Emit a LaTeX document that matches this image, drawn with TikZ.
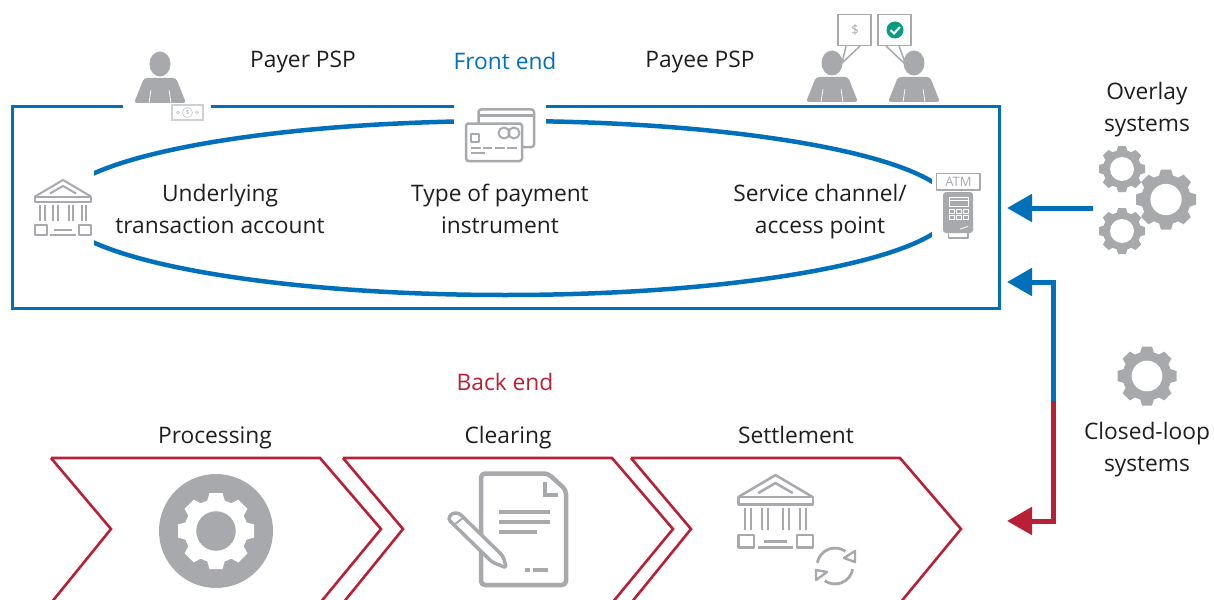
\documentclass[tikz,border=0pt]{standalone}
\usepackage{fontspec}
\setmainfont{Open Sans}
\usetikzlibrary{shapes.geometric, arrows.meta, positioning}
\definecolor{frontblue}{HTML}{0070BB}
\definecolor{backred}{HTML}{B82036}
\definecolor{icongray}{HTML}{A7A9AC}
\definecolor{moneygray}{HTML}{CFD0D2}
\definecolor{labelblack}{HTML}{1E1E1E}
\definecolor{okgreen}{HTML}{0A9B82}
\tikzset{
    label text/.style={font=\fontsize{22.75}{32}\selectfont, text=labelblack, align=center, inner sep=0pt},
    coverbox/.style={fill=white, inner sep=0pt},
    iconline/.style={draw=icongray, line join=round},
    blueflow/.style={draw=frontblue, line width=5pt, -{Triangle[length=25pt, width=27pt]}},
    redflow/.style={draw=backred, line width=5pt, -{Triangle[length=25pt, width=27pt]}},
    chevron/.style={draw=backred, line width=2.6pt, line join=miter},
    pics/person/.style={code={
        \fill[icongray] (0,-39) ellipse [x radius=10.5, y radius=12.5];
        \fill[icongray, rounded corners=3pt] (-26,0) -- (-16,-25) -- (16,-25) -- (26,0) -- cycle;
        \draw[white, line width=0.7pt] (-11,0) -- (-9,-13) (11,0) -- (9,-13);
    }},
    pics/gearwheel/.style 2 args={code={
        \fill[#1] (0,0) circle [radius=0.83];
        \foreach \gearangle in {0,45,...,315} {
            \fill[#1, rotate=\gearangle] (-0.26,0.7) -- (-0.17,1) -- (0.17,1) -- (0.26,0.7) -- cycle;
        }
        \fill[#2] (0,0) circle [radius=0.52];
    }},
    pics/bank/.style={code={
        \draw[iconline] (-28,-10.5) -- (0,-27) -- (28,-10.5);
        \draw[iconline] (-13,-13.5) -- (0,-21) -- (13,-13.5);
        \draw[iconline] (-28,-10.5) rectangle (28,-5);
        \foreach \colx in {-23,-18.5,-10,-5.5,5.5,10,18.5,23} {
            \draw[iconline] (\colx,-2) -- (\colx,14);
        }
        \draw[iconline] (-28,18) rectangle (-16,27.5);
        \draw[iconline] (16,18) rectangle (28,27.5);
        \draw[iconline] (-9,23) -- (9,23);
        \draw[iconline] (-13,27.5) -- (13,27.5);
    }}
}
\begin{document}
\begin{tikzpicture}[x=1pt, y=-1pt]
    \useasboundingbox (0,0) rectangle (1214,599);

    % Front end frame and loop
    \node[draw=frontblue, line width=3pt, minimum width=987pt, minimum height=201pt, inner sep=0pt] (frontbox) at (506,207.5) {};
    \node[draw=frontblue, line width=4.5pt, ellipse, minimum width=896pt, minimum height=174pt, inner sep=0pt] (loopring) at (505,208) {};

    % Gaps for the icons
    \node[coverbox, minimum width=88pt, minimum height=14pt] (payergap) at (167,106) {};
    \node[coverbox, minimum width=92pt, minimum height=70pt] (cardgap) at (500,135) {};
    \node[coverbox, minimum width=74pt, minimum height=110pt] (bankgap) at (57,207) {};
    \node[coverbox, minimum width=50pt, minimum height=90pt] (atmgap) at (957,207) {};

    % Front end labels
    \node[label text] (payerlabel) at (303,61.3) {\strut Payer PSP};
    \node[label text, text=frontblue] (frontlabel) at (505,63.3) {\strut Front end};
    \node[label text] (payeelabel) at (700,61.3) {\strut Payee PSP};
    \node[label text] (accountlabel) at (220,211.3) {\strut Underlying\\\strut transaction account};
    \node[label text] (instrumentlabel) at (500,211.3) {\strut Type of payment\\\strut instrument};
    \node[label text] (channellabel) at (820,211.3) {\strut Service channel/\\\strut access point};

    % Side labels
    \node[label text] (overlaylabel) at (1147,108.9) {\strut Overlay\\\strut systems};
    \node[label text] (closedlabel) at (1147,448.9) {\strut Closed-loop\\\strut systems};

    % Back end labels
    \node[label text, text=backred] (backlabel) at (505,384.5) {\strut Back end};
    \node[label text] (processinglabel) at (215,437.5) {\strut Processing};
    \node[label text] (clearinglabel) at (508,437.5) {\strut Clearing};
    \node[label text] (settlementlabel) at (796,437.5) {\strut Settlement};

    % People
    \pic at (160,103) {person};
    \pic at (832,102) {person};
    \pic at (914,102) {person};

    % Banknote
    \draw[draw=moneygray, fill=white, line width=1.2pt] (172,105) rectangle (203,120);
    \draw[draw=moneygray, line width=0.8pt] (187.5,112.5) circle [radius=5];
    \draw[draw=moneygray, line width=0.8pt] (178,112.5) circle [radius=1.5] (197,112.5) circle [radius=1.5];
    \node[font=\fontsize{6}{6}\selectfont, text=icongray, inner sep=0pt] (moneysign) at (187.5,112.5) {\$};

    % Speech bubbles
    \draw[iconline, line width=1.5pt] (838,14.5) rectangle (871,45.5);
    \draw[iconline, line width=1.5pt] (846,46) -- (842,63) -- (860,46);
    \node[font=\fontsize{13}{13}\selectfont, text=icongray, inner sep=0pt] (dollarsign) at (855,30) {\$};
    \draw[iconline, line width=1.5pt] (878,14.5) rectangle (911,45.5);
    \draw[iconline, line width=1.5pt] (886,46) -- (906,65) -- (899,46);
    \fill[okgreen] (895,30) circle [radius=8.5];
    \draw[white, line width=2pt] (890.5,30) -- (894,33.5) -- (900,27);

    % Bank and cards
    \pic[line width=2pt] at (63,207) {bank};
    \draw[iconline, fill=white, line width=2.5pt, rounded corners=2.5pt] (478.5,109.5) rectangle (534,147);
    \draw[iconline, line width=2.5pt] (478.5,115.5) -- (534,115.5);
    \draw[iconline, fill=white, line width=2.5pt, rounded corners=2.5pt] (466,123.5) rectangle (522,161);
    \draw[iconline, line width=2.5pt] (471,134) rectangle (479,142);
    \draw[iconline, line width=2pt] (504,133) circle [radius=5.5] (514,133) circle [radius=5.5];
    \draw[iconline, line width=2pt] (471,148) -- (481,148) (483,148) -- (492,148) (495,148) -- (505,148) (507,148) -- (517,148);
    \draw[iconline, line width=2pt] (471,153) -- (485,153);

    % ATM
    \draw[iconline, line width=1.6pt] (936.5,173.5) rectangle (980,190);
    \node[font=\fontsize{13}{13}\selectfont, text=icongray, inner sep=0pt] (atmsign) at (958.5,182) {ATM};
    \draw[iconline, line width=1.4pt] (948.5,232) rectangle (968,238);
    \fill[icongray, rounded corners=3pt] (943,192) rectangle (973,233);
    \draw[white, line width=1pt] (949.5,197) rectangle (968,206) (949.5,200) -- (968,200);
    \foreach \keyx in {949.5,956.5,963.5} {
        \draw[white, line width=0.9pt] (\keyx,209.5) rectangle +(4.5,3.5);
        \draw[white, line width=0.9pt] (\keyx,215.5) rectangle +(4.5,3.5);
    }
    \draw[white, line width=0.8pt] (960,229) -- (968,226.5);

    % Gears
    \pic[scale=23] at (1122,169) {gearwheel={icongray}{white}};
    \pic[scale=30] at (1166,199.5) {gearwheel={icongray}{white}};
    \pic[scale=23] at (1122,231) {gearwheel={icongray}{white}};
    \pic[scale=29.5] at (1147,376) {gearwheel={icongray}{white}};

    % Arrows
    \coordinate (overlayout) at (1093,208);
    \coordinate (overlayin) at (1007,208);
    \coordinate (loopsplit) at (1053,401);
    \coordinate (frontin) at (1007,282);
    \coordinate (backin) at (1007,521);
    \draw[blueflow] (overlayout) -- (overlayin);
    \draw[blueflow] (loopsplit) |- (frontin);
    \draw[redflow] (loopsplit) |- (backin);

    % Back end chevrons
    \foreach \chevx in {51,343,631} {
        \draw[chevron] (\chevx,458) -- +(269,0) -- +(330,71) -- +(269,145) (\chevx,458) -- +(60,71) -- +(0,145);
    }

    % Processing icon
    \fill[icongray] (216,531) circle [radius=57];
    \pic[scale=38] at (216,531) {gearwheel={white}{icongray}};

    % Clearing icon
    \draw[iconline, line width=4.5pt, rounded corners=4pt] (481,520) -- (481,473.5) -- (548,473.5) -- (566,490) -- (566,585) -- (481,585) -- (481,520);
    \draw[iconline, line width=4.5pt, line join=miter] (545,482) -- (545,495) -- (558,495);
    \draw[iconline, line width=4.5pt] (499,512) -- (550,512) (499,522) -- (550,522) (499,532) -- (537,532);
    \draw[iconline, line width=4.5pt] (525,570) -- (530,570) (533,570) -- (548,570);
    \draw[iconline, fill=white, line width=3.5pt, rounded corners=3pt] (448,519) -- (452,513) -- (459,513) -- (503,556) -- (506.5,568) -- (492,562) -- cycle;
    \draw[iconline, line width=2pt] (453,526) -- (464,517);

    % Settlement icon
    \pic[scale=1.33, line width=2.5pt] at (775.5,511) {bank};
    \draw[iconline, line width=2.8pt] (817.3,562.9) arc [start angle=-170, end angle=-55, radius=18];
    \draw[iconline, fill=white, line width=2.4pt] (855,551) -- (844,558) -- (855,562) -- cycle;
    \draw[iconline, line width=2.8pt] (852.7,569.1) arc [start angle=10, end angle=125, radius=18];
    \draw[iconline, fill=white, line width=2.4pt] (816,570) -- (827,572) -- (816,580) -- cycle;
\end{tikzpicture}
\end{document}
